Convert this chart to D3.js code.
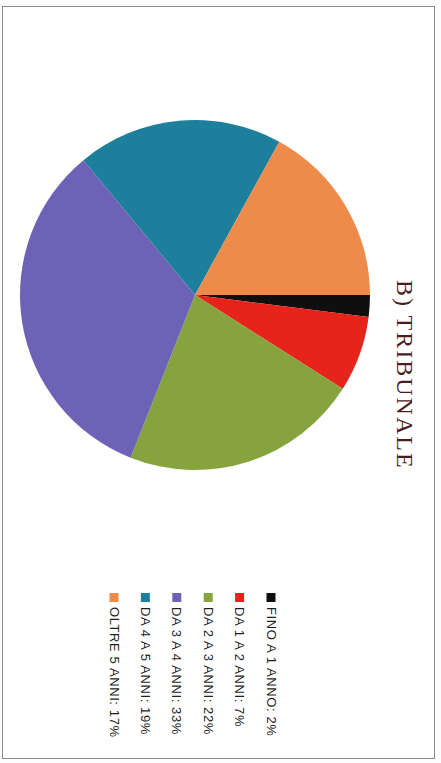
<!DOCTYPE html>
<html lang="it">
<head>
  <meta charset="UTF-8">
  <title>B) Tribunale</title>
  <style>
    body {
        margin: 0;
        background-color: #fdfdfd;
    }
    .main {
        position: relative;
        width: 441px;
        height: 763px;
    }
    .legend text {
        font-family: "Liberation Sans", Arial, sans-serif;
        font-size: 13px;
        letter-spacing: 0.6px;
        fill: #1e1e1e;
    }
    .title {
        font-family: "Liberation Serif", "Times New Roman", serif;
        font-size: 24px;
        letter-spacing: 2px;
        fill: #4a1e1e;
    }
  </style>
  <script src="https://cdn.jsdelivr.net/npm/d3@7"></script>
</head>
<body>
    <div class="main"></div>

    <script>

    // chart values (page is scanned rotated 90deg clockwise)
    var categories = ["FINO A 1 ANNO", "DA 1 A 2 ANNI", "DA 2 A 3 ANNI", "DA 3 A 4 ANNI", "DA 4 A 5 ANNI", "OLTRE 5 ANNI"];
    var values = [2, 7, 22, 33, 19, 17];
    var colors = ["#0f0f0f", "#e6241b", "#87a33d", "#6d62b6", "#1d7f9c", "#ee8b4a"];
    var title = "B) TRIBUNALE";

    var width = 441,
        height = 763;

    var cx = 195,
        cy = 295,
        radius = 175;

    var svg = d3.select(".main").append("svg")
        .attr("width", width)
        .attr("height", height);

    // page frame
    svg.append("rect")
        .attr("x", 2.5)
        .attr("y", 6.5)
        .attr("width", 432)
        .attr("height", 752)
        .attr("fill", "#fff")
        .attr("stroke", "#8a8a8a")
        .attr("stroke-width", 1);

    var color = d3.scaleOrdinal()
        .domain(categories)
        .range(colors);

    // first slice at 12 o'clock of the original, i.e. 3 o'clock once rotated
    var pie = d3.pie()
        .sort(null)
        .value(function(d, i) { return values[i]; })
        .startAngle(Math.PI / 2)
        .endAngle(Math.PI / 2 + 2 * Math.PI);

    var arc = d3.arc()
        .innerRadius(0)
        .outerRadius(radius);

    svg.append("g")
        .attr("transform", "translate(" + cx + "," + cy + ")")
      .selectAll("path")
        .data(pie(categories))
      .enter().append("path")
        .attr("d", arc)
        .attr("fill", function(d) { return color(d.data); });

    // title
    svg.append("text")
        .attr("class", "title")
        .attr("transform", "translate(397,280) rotate(90)")
        .text(title);

    // legend, stacked right to left
    var legendX = d3.scalePoint()
        .domain(categories)
        .range([271, 114]);

    var item = svg.append("g")
        .attr("class", "legend")
      .selectAll("g")
        .data(categories)
      .enter().append("g")
        .attr("transform", function(d) { return "translate(" + legendX(d) + ",0)"; });

    item.append("rect")
        .attr("x", -4.5)
        .attr("y", 593)
        .attr("width", 9)
        .attr("height", 9)
        .attr("fill", function(d) { return color(d); });

    item.append("text")
        .attr("transform", "translate(-4.5,607) rotate(90)")
        .text(function(d, i) { return d + ": " + values[i] + "%"; });

    </script>
</body>
</html>
